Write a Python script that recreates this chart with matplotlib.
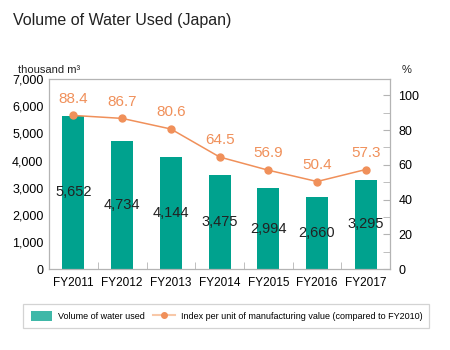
import matplotlib

matplotlib.use("Agg")

import matplotlib.pyplot as plt
import numpy as np
from matplotlib.lines import Line2D
from matplotlib.patches import Patch

plt.rcParams["font.family"] = ["Liberation Sans", "DejaVu Sans"]

YEARS = ["FY2011", "FY2012", "FY2013", "FY2014", "FY2015", "FY2016", "FY2017"]
VOLUME = [5652, 4734, 4144, 3475, 2994, 2660, 3295]  # thousand m3
INDEX = [88.4, 86.7, 80.6, 64.5, 56.9, 50.4, 57.3]  # % vs FY2010

BAR_COLOR = "#00a28e"
LINE_COLOR = "#f0905a"
SPINE = "#b4b4b4"

fig = plt.figure(figsize=(4.5, 3.5), dpi=100)
ax = fig.add_axes([0.109, 0.231, 0.758, 0.543])
x = np.arange(len(YEARS))

ax.bar(x, VOLUME, width=0.45, color=BAR_COLOR, zorder=2)
for xi, v in zip(x, VOLUME):
    ax.text(xi, v / 2, f"{v:,}", ha="center", va="center", fontsize=10.5,
            color="#222222", zorder=3)

ax.set_xlim(-0.5, len(YEARS) - 0.5)
ax.set_ylim(0, 7000)
ax.set_yticks(range(0, 7001, 1000))
ax.set_yticklabels([f"{v:,}" for v in range(0, 7001, 1000)], fontsize=9)
ax.tick_params(axis="y", length=0, pad=4)
ax.set_xticks(x)
ax.set_xticklabels(YEARS, fontsize=8.5)
ax.tick_params(axis="x", length=0, pad=6)
ax.set_xticks(x[:-1] + 0.5, minor=True)
ax.tick_params(axis="x", which="minor", direction="in", length=5, color=SPINE)
for s in ax.spines.values():
    s.set_color(SPINE)
    s.set_linewidth(0.9)

ax2 = ax.twinx()
ax2.plot(x, INDEX, color=LINE_COLOR, linewidth=1.1, marker="o", markersize=5,
         zorder=4)
for xi, v in zip(x, INDEX):
    ax2.annotate(f"{v:.1f}", (xi, v), xytext=(0, 7), textcoords="offset points",
                 ha="center", va="bottom", fontsize=11, color=LINE_COLOR)
ax2.set_ylim(0, 109.3)
ax2.set_yticks(range(0, 101, 20))
ax2.set_yticks(range(10, 101, 20), minor=True)
ax2.tick_params(axis="y", which="both", direction="in", length=5, color=SPINE,
                labelsize=9, pad=6)
for s in ax2.spines.values():
    s.set_visible(False)

fig.text(0.029, 0.94, "Volume of Water Used (Japan)", fontsize=11.5, color="#222222",
         va="center")
fig.text(0.04, 0.80, "thousand m³", fontsize=8, color="#222222", va="center")
fig.text(0.893, 0.80, "%", fontsize=8, color="#222222", va="center")

handles = [
    Patch(facecolor="#3fb8a8", edgecolor="none"),
    Line2D([0], [0], color="#f8c8a8", linewidth=1.5, marker="o", markersize=4,
           markerfacecolor="#f0905a", markeredgecolor="#f0905a"),
]
labels = ["Volume of water used",
          "Index per unit of manufacturing value (compared to FY2010)"]
leg = fig.legend(handles, labels, loc="center", bbox_to_anchor=(0.503, 0.097),
                 ncol=2, fontsize=6.5, frameon=True, fancybox=False,
                 handlelength=2.4, handleheight=1.3, columnspacing=1.0,
                 borderpad=0.8, handletextpad=0.6)
leg.get_frame().set_edgecolor("#c8c8c8")
leg.get_frame().set_linewidth(0.9)

fig.savefig("out.png", dpi=100)
